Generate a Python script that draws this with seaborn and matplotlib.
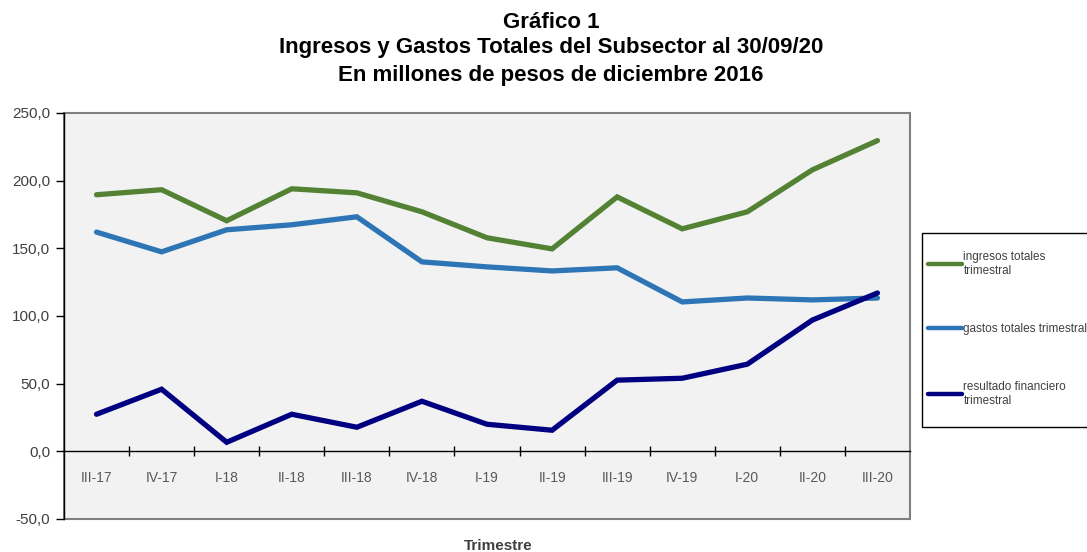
import matplotlib
matplotlib.use("Agg")
import matplotlib.pyplot as plt
import seaborn as sns
import pandas as pd
import numpy as np
from matplotlib.ticker import FuncFormatter, FixedLocator
from matplotlib.lines import Line2D
from matplotlib.patches import Rectangle

trimestres = ["III-17", "IV-17", "I-18", "II-18", "III-18", "IV-18", "I-19",
              "II-19", "III-19", "IV-19", "I-20", "II-20", "III-20"]
ingresos = [189.6, 193.3, 170.4, 194.0, 191.0, 177.0, 157.8, 149.6, 188.0,
            164.4, 177.0, 208.0, 229.6]
gastos = [162.0, 147.4, 163.7, 167.4, 173.3, 140.0, 136.3, 133.3, 135.6,
          110.4, 113.3, 111.9, 113.3]
resultado = [27.4, 45.9, 6.7, 27.4, 17.8, 37.0, 20.0, 15.6, 52.6, 54.0,
             64.4, 97.0, 117.0]
series_names = ["ingresos totales\ntrimestral", "gastos totales trimestral",
                "resultado financiero\ntrimestral"]
colors = ["#548235", "#2e75b6", "#000080"]

sns.set_theme(style="white")
plt.rcParams['font.family'] = ['Liberation Sans', 'DejaVu Sans']

rows = []
for name, vals in zip(series_names, [ingresos, gastos, resultado]):
    for i, (t, v) in enumerate(zip(trimestres, vals)):
        rows.append({"pos": i, "trimestre": t, "valor": v, "serie": name})
df = pd.DataFrame(rows)

fig = plt.figure(figsize=(10.87, 5.52), dpi=100)
ax = fig.add_axes([64/1087, 1-519/552, (910-64)/1087, (519-113)/552])
ax.set_facecolor("#f2f2f2")

sns.lineplot(data=df, x="pos", y="valor", hue="serie", palette=colors,
             hue_order=series_names, linewidth=3.8, ax=ax, legend=False,
             solid_capstyle="round", solid_joinstyle="miter")

ax.set_xlim(-0.5, len(trimestres) - 0.5)
ax.set_ylim(-50, 250)
ax.set_yticks(np.arange(-50, 251, 50))
ax.yaxis.set_major_formatter(FuncFormatter(lambda v, p: f"{v:.1f}".replace(".", ",")))
ax.tick_params(axis="y", which="major", direction="out", length=6, width=1,
               color="black", labelsize=11, labelcolor="#404040", pad=4, left=True)

for s in ["top", "right"]:
    ax.spines[s].set_visible(False)
ax.spines["left"].set_color("black")
ax.spines["left"].set_linewidth(1)
ax.spines["bottom"].set_position(("data", 0))
ax.spines["bottom"].set_color("black")
ax.spines["bottom"].set_linewidth(1)
ax.patch.set_edgecolor("#808080")
ax.patch.set_linewidth(1.5)

ax.set_xticks(range(len(trimestres)))
ax.set_xticklabels(trimestres)
ax.xaxis.set_minor_locator(FixedLocator(np.arange(0.5, len(trimestres) - 0.5, 1)))
ax.tick_params(axis="x", which="major", length=0, labelsize=10,
               labelcolor="#595959", pad=14, bottom=True)
ax.tick_params(axis="x", which="minor", direction="inout", length=7, width=1,
               color="black", bottom=True)
ax.set_xlabel("")
ax.set_ylabel("")

fig.text(498/1087, 1-546/552, "Trimestre", ha="center", va="center",
         fontsize=11, fontweight="bold", color="#404040")

title_x = 551/1087
fig.text(title_x, 1-22/552, "Gráfico 1", ha="center", va="center",
         fontsize=16, fontweight="bold", color="black")
fig.text(title_x, 1-48/552,
         "Ingresos y Gastos Totales del Subsector al 30/09/20",
         ha="center", va="center", fontsize=16, fontweight="bold", color="black")
fig.text(title_x, 1-75/552,
         "En millones de pesos de diciembre 2016",
         ha="center", va="center", fontsize=16, fontweight="bold", color="black")

# legend frame (extends beyond right edge, as in the reference)
fig.patches.append(Rectangle((922/1087, 1-427/552), 200/1087, 194/552,
                             transform=fig.transFigure, facecolor="white",
                             edgecolor="black", linewidth=1, zorder=1))
handles = [Line2D([0], [0], color=c, lw=3.2) for c in colors]
leg = fig.legend(handles, series_names, loc="upper left",
                 bbox_to_anchor=(928/1087, 1-251/552), frameon=False,
                 fontsize=8.5, labelspacing=3.9, handlelength=2.9, handletextpad=0.1,
                 borderpad=0, borderaxespad=0)
for t in leg.get_texts():
    t.set_color("#404040")

fig.savefig("out.png", dpi=100)
